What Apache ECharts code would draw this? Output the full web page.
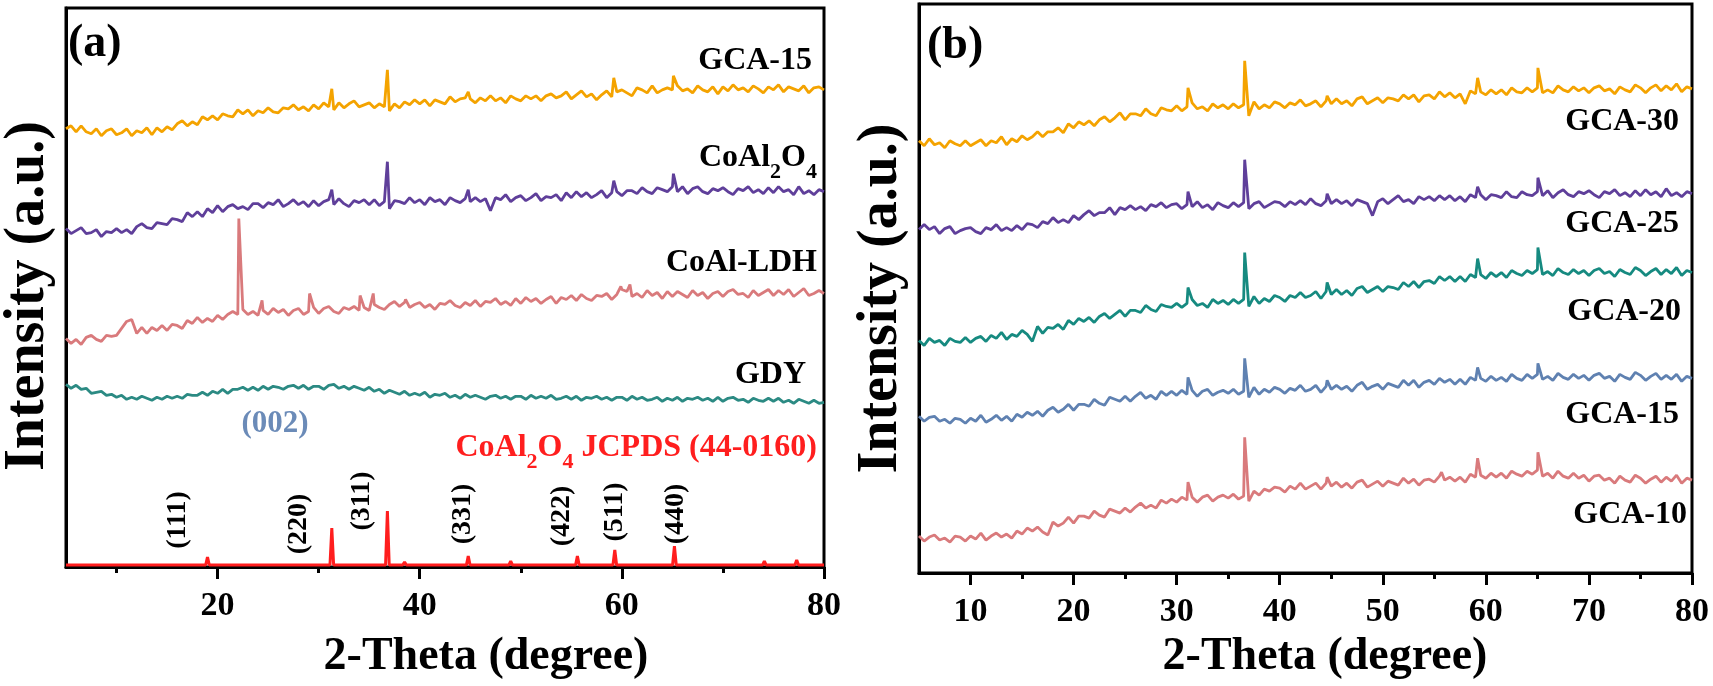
<!DOCTYPE html>
<html>
<head>
<meta charset="utf-8">
<script src="https://cdn.jsdelivr.net/npm/echarts@6/dist/echarts.min.js"></script>
<style>
  html, body { margin: 0; padding: 0; background: #fff; }
  #chart { width: 1713px; height: 686px; }
</style>
</head>
<body>
<div id="chart"></div>
<script>
// 2-theta sampling positions, 0.5 degree apart from 5 to 80
const theta = Array.from({ length: 151 }, (_, i) => 5 + i * 0.5);

// ---- panel (a) ----
const gca15aBase = [
  439,442,436,442,436,434,439,432,437,439,
  433,435,439,432,437,435,440,433,440,436,
  441,438,444,447,442,446,443,451,448,452,
  448,454,452,451,458,454,458,452,457,455,
  460,456,455,460,459,463,458,461,457,463,
  459,465,461,458,465,460,464,467,461,463,
  465,460,464,461,457,464,460,466,463,468,
  464,468,462,468,466,464,471,466,469,470,
  469,465,470,467,472,467,470,465,472,469,
  467,472,469,472,467,472,474,470,472,476,
  469,473,477,471,474,468,473,477,471,476,
  478,475,472,480,478,475,482,475,478,480,
  478,482,477,479,475,482,478,476,481,474,
  481,477,483,478,480,476,482,479,475,481,
  478,483,476,481,479,477,482,475,480,481,
  478
];
const gca15aPeaks = [[31.3, 479], [36.8, 498], [44.8, 476], [59.2, 490], [65.1, 492]];

const coal2o4Base = [
  339,334,337,340,334,335,338,331,336,335,
  339,335,338,334,341,344,340,339,345,344,
  343,349,348,346,355,351,356,351,359,355,
  362,356,361,363,359,361,358,364,364,360,
  365,363,368,361,364,368,363,366,361,367,
  362,366,368,363,369,364,361,367,365,368,
  363,368,362,366,359,367,366,364,370,365,
  368,363,370,366,368,363,370,367,365,369,
  366,370,366,369,357,370,368,373,366,370,
  372,367,370,374,367,371,370,373,367,375,
  370,376,371,375,370,373,377,370,375,376,
  372,377,377,374,380,376,374,380,378,376,
  381,376,381,374,379,381,376,374,379,377,
  380,376,373,379,377,381,375,378,374,380,
  375,381,376,378,373,381,374,377,373,378,
  376
];
const coal2o4Peaks = [[31.3, 378], [36.8, 406], [44.8, 378], [55.6, 378], [59.2, 387], [65.1, 394]];

const ldhBase = [
  229,224,228,223,230,232,228,226,232,231,
  232,239,246,248,234,240,234,240,237,242,
  237,243,242,239,247,244,250,245,249,246,
  252,248,253,256,253,258,253,256,252,257,
  253,259,255,258,252,257,259,253,256,260,
  254,259,261,256,254,260,258,261,257,260,
  257,263,260,258,263,266,261,265,260,263,
  265,260,263,258,264,263,267,262,260,265,
  262,267,261,266,265,269,263,266,262,269,
  264,270,266,269,264,268,271,264,270,268,
  272,267,273,269,267,272,271,274,268,273,
  278,276,271,274,270,277,272,275,269,276,
  271,276,273,270,277,272,275,269,274,276,
  271,276,278,273,274,270,277,272,275,278,
  272,277,273,278,271,275,279,272,274,277,
  274
];
const ldhPeaks = [[22.1, 349], [24.4, 267], [29.1, 274], [34.1, 272], [35.4, 274], [38.6, 268], [59.9, 281], [60.8, 283]];

const gdyBase = [
  183,179,182,178,179,174,175,176,172,173,
  170,172,168,170,168,171,169,167,170,168,
  171,169,171,169,173,172,172,175,172,176,
  174,178,174,178,178,180,177,180,177,181,
  178,181,180,178,181,182,179,182,178,181,
  181,178,182,183,179,181,178,181,179,177,
  180,176,178,174,177,175,173,176,172,174,
  172,175,170,173,172,174,170,172,169,173,
  170,172,170,168,171,172,169,171,168,171,
  171,168,172,169,171,169,172,168,169,171,
  168,171,167,170,169,171,168,170,167,170,
  170,167,171,168,170,167,168,170,166,169,
  167,170,166,169,168,170,167,169,166,170,
  166,169,170,167,168,165,169,167,166,169,
  166,169,165,167,164,168,166,164,167,164,
  165
];

// CoAl2O4 JCPDS 44-0160 reference lines
const refPos = [19.0, 31.3, 36.8, 38.5, 44.8, 49.0, 55.6, 59.3, 65.2, 68.9, 74.1, 77.3];
const refInt = [8, 37, 54, 3, 9, 4, 9, 15, 19, 2, 4, 5];
const refBaseline = 2;
const hklLabels = ['(111)', '(220)', '(311)', '(331)', '(422)', '(511)', '(440)'];

// ---- panel (b) ----
const gca30Base = [
  433,428,435,429,431,426,433,430,428,433,
  428,431,434,428,433,431,437,429,435,432,
  438,434,437,442,437,442,442,446,441,450,
  446,452,449,453,448,454,457,452,456,461,
  454,460,460,458,465,460,458,466,464,463,
  468,463,467,471,465,467,463,470,466,469,
  465,470,466,469,458,472,465,469,466,472,
  470,466,471,469,474,468,470,473,467,473,
  470,475,470,473,468,475,477,470,473,476,
  471,476,475,473,479,475,479,472,478,479,
  475,482,477,481,476,480,470,483,480,482,
  479,484,480,484,479,486,482,481,486,482,
  486,481,484,481,488,484,482,487,483,486,
  481,486,488,483,485,480,487,484,482,489,
  486,481,486,489,483,488,484,490,482,487,
  485
];
const gca30Peaks = [[31.1, 486], [36.6, 513], [44.6, 478], [59.2, 496], [65.05, 506]];

const gca25Base = [
  344,349,344,347,340,345,347,340,343,345,
  346,342,340,346,344,349,343,346,343,348,
  344,350,349,346,352,350,356,351,354,351,
  358,354,359,363,358,361,361,366,359,366,
  364,368,364,367,363,369,367,371,366,369,
  370,365,369,367,372,366,369,364,371,368,
  366,371,367,371,365,370,372,366,369,372,
  371,367,372,369,373,369,375,370,368,373,
  370,374,370,373,368,374,372,370,358,372,
  375,370,374,378,372,374,370,377,374,377,
  373,378,374,378,373,377,372,379,376,379,
  374,379,378,376,382,377,376,382,379,378,
  382,378,383,376,381,384,379,377,382,380,
  383,379,376,382,380,384,378,381,377,383,
  378,384,379,382,377,385,378,381,377,382,
  380
];
const gca25Peaks = [[31.1, 382], [36.6, 414], [44.6, 380], [59.2, 387], [65.05, 396]];

const gca20Base = [
  233,228,235,231,233,228,235,232,231,236,
  231,235,237,232,238,235,241,234,239,237,
  243,239,232,247,240,246,245,249,244,253,
  249,255,252,256,251,257,260,255,259,263,
  257,263,263,261,268,264,262,269,267,266,
  270,266,270,274,268,270,266,274,270,273,
  269,274,270,274,267,277,270,275,272,278,
  276,272,278,276,281,276,278,282,275,282,
  279,284,279,283,278,285,287,281,284,287,
  282,287,286,284,291,287,292,286,292,293,
  290,297,293,297,292,297,292,299,296,299,
  295,301,297,301,296,303,300,298,303,300,
  304,299,302,298,305,301,299,304,300,303,
  298,303,305,300,302,297,304,301,299,306,
  303,298,302,305,299,304,300,306,298,303,
  301
];
const gca20Peaks = [[31.1, 286], [36.6, 321], [44.6, 291], [59.2, 315], [65.05, 326]];

const gca15bBase = [
  157,152,156,157,152,154,150,155,154,150,
  155,152,158,151,154,158,153,157,152,159,
  156,161,158,162,157,163,166,161,164,169,
  163,169,169,167,174,170,168,176,174,172,
  177,172,177,181,175,178,174,182,178,182,
  178,183,179,183,177,182,184,178,181,183,
  180,184,179,182,176,186,179,184,181,186,
  184,180,185,183,188,182,184,188,181,187,
  184,188,184,187,182,188,191,184,187,189,
  184,190,188,186,193,188,193,186,191,193,
  189,195,191,194,189,194,189,196,193,195,
  192,197,193,196,192,199,195,193,199,195,
  199,194,197,193,200,196,194,199,195,198,
  193,198,200,195,197,192,199,196,194,201,
  198,193,197,200,194,198,194,199,192,197,
  195
];
const gca15bPeaks = [[31.1, 196], [36.6, 215], [44.6, 193], [59.2, 206], [65.05, 210]];

const gca10Base = [
  37,32,36,38,33,35,31,37,36,32,
  37,34,40,33,37,40,36,39,35,42,
  39,45,42,46,41,38,51,47,50,56,
  50,57,57,55,62,58,56,64,62,60,
  65,61,66,70,65,68,65,73,70,74,
  71,76,73,76,71,76,78,72,76,78,
  75,79,74,77,72,82,78,84,82,86,
  85,81,87,84,90,84,87,90,84,90,
  87,91,86,90,85,91,93,86,89,92,
  87,92,90,88,95,90,94,88,93,94,
  91,97,93,96,92,96,91,99,96,98,
  95,100,96,100,95,102,99,97,102,99,
  103,97,100,95,102,97,95,100,95,98,
  92,97,98,93,95,90,97,93,91,98,
  95,90,94,97,91,96,92,98,90,95,
  93
];
const gca10Peaks = [[31.1, 91], [36.6, 136], [44.6, 96], [55.7, 101], [59.2, 115], [65.05, 121]];

// tick values
const ticksA = [20, 40, 60, 80];
const minorA = [10, 30, 50, 70];
const ticksB = [10, 20, 30, 40, 50, 60, 70, 80];
const minorB = [15, 25, 35, 45, 55, 65, 75];

// merge the sampled pattern with the peak maxima
function pattern(base, peaks) {
  return theta.map((t, i) => [t, base[i]]).concat(peaks || []).sort((a, b) => a[0] - b[0]);
}

function sticks(pos, height, base) {
  const out = [[5, base]];
  pos.forEach((p, i) => {
    out.push([p - 0.18, base], [p, base + height[i]], [p + 0.18, base]);
  });
  out.push([80, base]);
  return out;
}

const serif = '"Liberation Serif", "Times New Roman", serif';
const chart = echarts.init(document.getElementById('chart'));

function xAxisMain(grid, ticks, nameGap, shift) {
  return {
    type: 'value', gridIndex: grid, position: 'bottom', min: 5, max: 80,
    axisLine: { show: true, lineStyle: { color: '#000', width: 3 } },
    axisTick: { show: true, inside: false, length: 12, customValues: ticks, lineStyle: { color: '#000', width: 3 } },
    axisLabel: { customValues: ticks, margin: 22, color: '#000', fontSize: 34, fontWeight: 'bold', fontFamily: serif },
    splitLine: { show: false },
    name: '2-Theta (degree)', nameLocation: 'middle', nameGap: nameGap,
    nameTextStyle: { color: '#000', fontSize: 46, fontWeight: 'bold', fontFamily: serif, padding: [0, 0, 0, shift] }
  };
}
function xAxisMinor(grid, ticks) {
  return {
    type: 'value', gridIndex: grid, position: 'bottom', offset: 0, min: 5, max: 80,
    axisLine: { show: false },
    axisTick: { show: true, inside: false, length: 6, customValues: ticks, lineStyle: { color: '#000', width: 3 } },
    axisLabel: { show: false },
    splitLine: { show: false }
  };
}
function yAxis(grid, max, shift) {
  return {
    type: 'value', gridIndex: grid, min: 0, max: max,
    axisLine: { show: true, lineStyle: { color: '#000', width: 3 } },
    axisTick: { show: false }, axisLabel: { show: false }, splitLine: { show: false },
    name: 'Intensity (a.u.)', nameLocation: 'middle', nameRotate: 90, nameGap: 9,
    nameTextStyle: { color: '#000', fontSize: 56, fontWeight: 'bold', fontFamily: serif, padding: [0, shift, 0, 0] }
  };
}
function line(name, data, color, xi, yi, width) {
  return {
    name: name, type: 'line', data: data, xAxisIndex: xi, yAxisIndex: yi,
    showSymbol: false, symbol: 'none', animation: false, silent: true,
    lineStyle: { color: color, width: width || 2.8 }
  };
}
function txt(x, y, text, size, align, color, rotation) {
  return {
    type: 'text', x: x, y: y, rotation: rotation || 0, z: 100, silent: true,
    style: {
      text: text, fill: color || '#000', font: 'bold ' + size + 'px ' + serif,
      align: align, verticalAlign: 'middle', textAlign: align, textVerticalAlign: 'middle'
    }
  };
}
function subTxt(x, y, parts, color) {
  const n = { fontSize: 32, fontWeight: 'bold', fontFamily: serif, fill: color, color: color, lineHeight: 50 };
  const s = { fontSize: 22, fontWeight: 'bold', fontFamily: serif, fill: color, color: color, lineHeight: 50, verticalAlign: 'bottom' };
  return {
    type: 'text', x: x, y: y, z: 100, silent: true,
    style: {
      text: parts, fill: color, rich: { n: n, s: s },
      align: 'right', verticalAlign: 'middle', textAlign: 'right', textVerticalAlign: 'middle'
    }
  };
}

// hkl label anchor points (next to the reference peaks)
const hklSpots = [[178, 520], [299, 524], [362, 501], [463, 514], [562, 516], [615, 512], [676, 514]];

const option = {
  backgroundColor: '#fff',
  animation: false,
  grid: [
    { left: 61, top: 8, width: 763, height: 559, show: true, borderColor: '#000', borderWidth: 3, backgroundColor: 'transparent' },
    { left: 919, top: 4, width: 773, height: 569, show: true, borderColor: '#000', borderWidth: 3, backgroundColor: 'transparent' }
  ],
  xAxis: [
    xAxisMain(0, ticksA, 67, 82),
    xAxisMinor(0, minorA),
    xAxisMain(1, ticksB, 61, 39),
    xAxisMinor(1, minorB)
  ],
  yAxis: [yAxis(0, 560, 17), yAxis(1, 570, 20)],
  series: [
    line('GCA-15', pattern(gca15aBase, gca15aPeaks), '#f4a300', 0, 0),
    line('CoAl2O4', pattern(coal2o4Base, coal2o4Peaks), '#5f3f9a', 0, 0),
    line('CoAl-LDH', pattern(ldhBase, ldhPeaks), '#d97a7c', 0, 0),
    line('GDY', pattern(gdyBase), '#2b8a83', 0, 0),
    line('JCPDS 44-0160', sticks(refPos, refInt, refBaseline), '#ff1e1e', 0, 0, 3),
    line('GCA-30', pattern(gca30Base, gca30Peaks), '#f4a300', 2, 1),
    line('GCA-25', pattern(gca25Base, gca25Peaks), '#5f3f9a', 2, 1),
    line('GCA-20', pattern(gca20Base, gca20Peaks), '#168a80', 2, 1),
    line('GCA-15', pattern(gca15bBase, gca15bPeaks), '#5f81b1', 2, 1),
    line('GCA-10', pattern(gca10Base, gca10Peaks), '#d97a7c', 2, 1)
  ],
  graphic: [
    txt(68, 44, '(a)', 46, 'left'),
    txt(927, 46, '(b)', 46, 'left'),
    txt(812, 61, 'GCA-15', 32, 'right'),
    subTxt(817, 158, '{n|CoAl}{s|2}{n|O}{s|4}', '#000'),
    txt(817, 263, 'CoAl-LDH', 32, 'right'),
    txt(806, 375, 'GDY', 32, 'right'),
    txt(275, 424, '(002)', 31, 'center', '#6b8bb8'),
    subTxt(817, 448, '{n|CoAl}{s|2}{n|O}{s|4}{n| JCPDS (44-0160)}', '#ff1e1e'),
    txt(1679, 122, 'GCA-30', 32, 'right'),
    txt(1679, 224, 'GCA-25', 32, 'right'),
    txt(1681, 312, 'GCA-20', 32, 'right'),
    txt(1679, 415, 'GCA-15', 32, 'right'),
    txt(1687, 515, 'GCA-10', 32, 'right')
  ].concat(hklLabels.map((t, i) => txt(hklSpots[i][0], hklSpots[i][1], t, 28, 'center', '#000', Math.PI / 2)))
};

chart.setOption(option);
</script>
</body>
</html>
